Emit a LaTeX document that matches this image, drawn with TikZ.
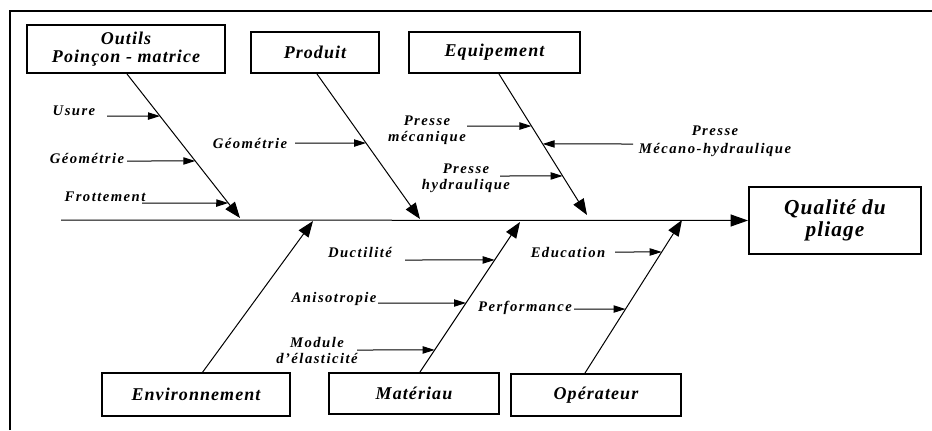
\documentclass[tikz,border=0pt]{standalone}
\usepackage{fontspec}
\setmainfont{Liberation Serif}
\newfontfamily\lbl[LetterSpace=6]{Liberation Serif}
\newfontfamily\clbl[LetterSpace=10]{Liberation Serif}
\newfontfamily\qlbl[LetterSpace=5]{Liberation Serif}
\usetikzlibrary{arrows.meta,calc}
\tikzset{
  box/.style={draw, line width=0.8pt, inner sep=0pt, align=center,
    font=\lbl\bfseries\itshape\fontsize{13.5}{13.5}\selectfont},
  cause/.style={inner sep=0pt, align=center,
    font=\clbl\bfseries\itshape\fontsize{11}{12}\selectfont},
  bigarrow/.style={-{Triangle[length=12pt,width=9pt]}, line width=0.75pt},
  smallarrow/.style={-{Triangle[length=9pt,width=5.5pt]}, line width=0.75pt},
}
\begin{document}
\begin{tikzpicture}[x=0.75pt,y=-0.75pt]
\useasboundingbox (0,0) rectangle (932,430);
% frame
\coordinate (f1) at (10,430);
\coordinate (f2) at (10,11);
\coordinate (f3) at (932,11);
\draw[line width=0.8pt] (f1) -- (f2) -- (f3);

% category boxes
\node[box, minimum width=148.5pt, minimum height=36pt] (out) at (126,49) {Outils\\Poinçon - matrice};
\node[box, minimum width=96pt, minimum height=30.75pt] (prod) at (315,52.5) {Produit};
\node[box, minimum width=128.25pt, minimum height=30.75pt] (equip) at (494.5,52.5) {Equipement};
\node[box, line width=1.5pt, minimum width=129pt, minimum height=50.25pt,
  font=\qlbl\bfseries\itshape\fontsize{16}{17}\selectfont] (Q) at (835,220.5) {Qualité du\\pliage};
\node[box, minimum width=141pt, minimum height=32.25pt] (env) at (196,394.5) {Environnement};
\node[box, minimum width=127.5pt, minimum height=30.75pt] (mat) at (414,393.5) {Matériau};
\node[box, minimum width=127.5pt, minimum height=31.5pt] (op) at (596,395) {Opérateur};

% spine
\coordinate (sp) at (61,220);
\draw[line width=0.75pt, -{Triangle[length=13pt,width=9pt]}] (sp) -- (Q.west);

% branch ends
\coordinate (O1) at (127,74);  \coordinate (O2) at (240,218);
\coordinate (P1) at (317,74);  \coordinate (P2) at (420,219);
\coordinate (E1) at (499,74);  \coordinate (E2) at (587,215);
\coordinate (V1) at (202,373); \coordinate (V2) at (313,221);
\coordinate (M1) at (420,372); \coordinate (M2) at (520,222);
\coordinate (R1) at (585,373); \coordinate (R2) at (682,220);
\draw[bigarrow] (O1) -- (O2);
\draw[bigarrow] (P1) -- (P2);
\draw[bigarrow] (E1) -- (E2);
\draw[bigarrow] (V1) -- (V2);
\draw[bigarrow] (M1) -- (M2);
\draw[bigarrow] (R1) -- (R2);

% cause labels
\node[cause] (usure) at (74,111) {Usure};
\node[cause] (geo1) at (87,158) {Géométrie};
\node[cause] (frot) at (105,197) {Frottement};
\node[cause] (geo2) at (250,143) {Géométrie};
\node[cause] (pmec) at (427,130) {Presse\\mécanique};
\node[cause, font=\clbl\bfseries\itshape\fontsize{11}{13.5}\selectfont] (pmh) at (715,141) {Presse\\Mécano-hydraulique};
\node[cause] (phyd) at (466,178) {Presse\\hydraulique};
\node[cause] (duct) at (360,252) {Ductilité};
\node[cause] (aniso) at (334,299) {Anisotropie};
\node[cause] (mod) at (317,350) {Module\\d’élasticité};
\node[cause] (edu) at (568,252) {Education};
\node[cause] (perf) at (525,308) {Performance};

% cause arrow starts
\coordinate (aU) at (107,116);
\coordinate (aG1) at (127,161);
\coordinate (aF) at (142,203);
\coordinate (aG2) at (295,143);
\coordinate (aPM) at (467,126);
\coordinate (aMH) at (633,144);
\coordinate (aPH) at (500,176);
\coordinate (aD) at (405,260);
\coordinate (aA) at (378,303);
\coordinate (aMo) at (357,350);
\coordinate (aE) at (615,252);
\coordinate (aP) at (574,309);

\draw[smallarrow] (aU) -- ($(O1)!0.292!(O2)$);
\draw[smallarrow] (aG1) -- ($(O1)!0.604!(O2)$);
\draw[smallarrow] (aF) -- ($(O1)!0.896!(O2)$);
\draw[smallarrow] (aG2) -- ($(P1)!0.476!(P2)$);
\draw[smallarrow] (aPM) -- ($(E1)!0.369!(E2)$);
\draw[smallarrow] (aMH) -- ($(E1)!0.496!(E2)$);
\draw[smallarrow] (aPH) -- ($(E1)!0.723!(E2)$);
\draw[smallarrow] (aD) -- ($(M1)!0.747!(M2)$);
\draw[smallarrow] (aA) -- ($(M1)!0.46!(M2)$);
\draw[smallarrow] (aMo) -- ($(M1)!0.147!(M2)$);
\draw[smallarrow] (aE) -- ($(R1)!0.791!(R2)$);
\draw[smallarrow] (aP) -- ($(R1)!0.418!(R2)$);
\end{tikzpicture}
\end{document}
